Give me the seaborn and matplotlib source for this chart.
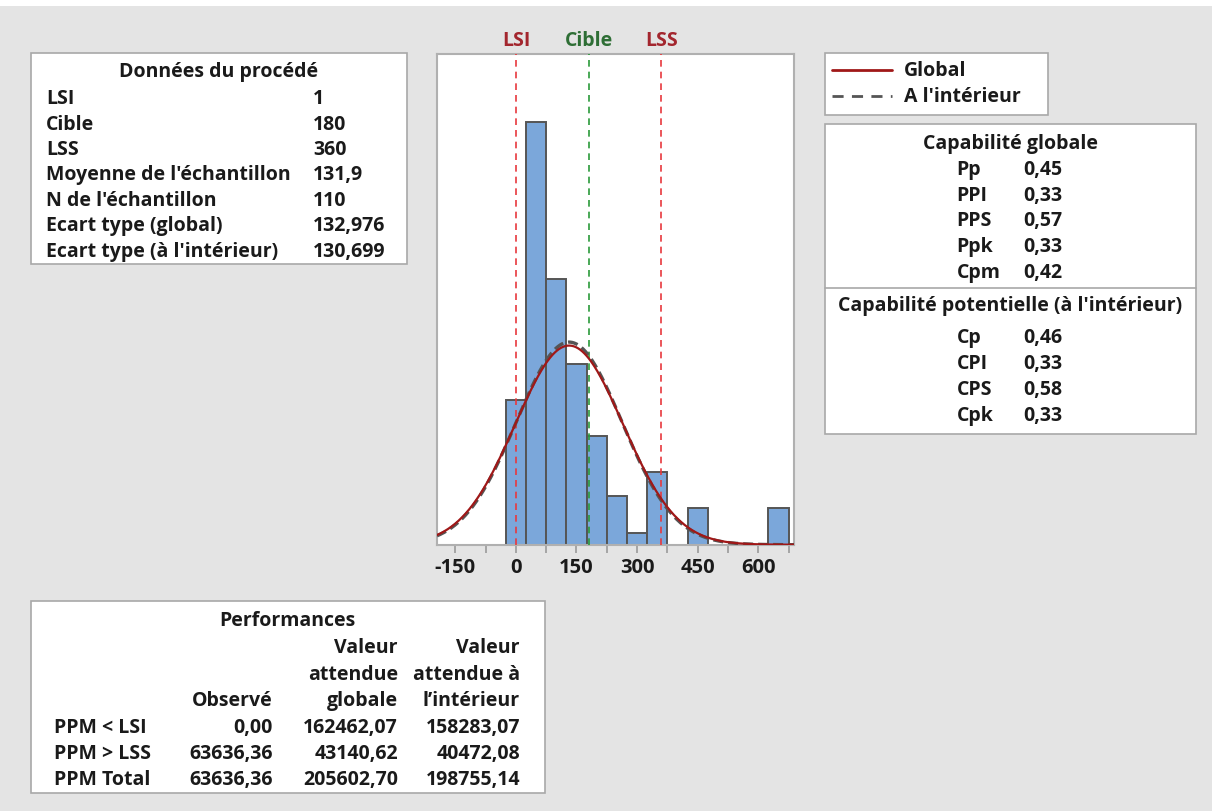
import numpy as np
import pandas as pd
import matplotlib
matplotlib.use("Agg")
import matplotlib.pyplot as plt
import seaborn as sns
from matplotlib.patches import Rectangle
from matplotlib.lines import Line2D

# ---------------- data ----------------
bin_centers = [0, 50, 100, 150, 200, 250, 300, 350, 400, 450, 500, 550, 600, 650]
bin_counts = [12, 35, 22, 15, 9, 4, 1, 6, 0, 3, 0, 0, 0, 3]
bin_width = 50
LSI, Cible, LSS = 1, 180, 360
mean = 131.9
n = 110
sd_global = 132.976
sd_within = 130.699
x_ticks = [-150, 0, 150, 300, 450, 600]
x_minor_ticks = [-75, 75, 225, 375, 525, 675]

process_labels = ["LSI", "Cible", "LSS", "Moyenne de l'échantillon",
                  "N de l'échantillon", "Ecart type (global)",
                  "Ecart type (à l'intérieur)"]
process_values = ["1", "180", "360", "131,9", "110", "132,976", "130,699"]
global_labels = ["Pp", "PPI", "PPS", "Ppk", "Cpm"]
global_values = ["0,45", "0,33", "0,57", "0,33", "0,42"]
within_labels = ["Cp", "CPI", "CPS", "Cpk"]
within_values = ["0,46", "0,33", "0,58", "0,33"]
perf_rows = ["PPM < LSI", "PPM > LSS", "PPM Total"]
perf_observed = ["0,00", "63636,36", "63636,36"]
perf_global = ["162462,07", "43140,62", "205602,70"]
perf_within = ["158283,07", "40472,08", "198755,14"]

# ---------------- style ----------------
sns.set_theme(style="white")
plt.rcParams['font.family'] = ['Open Sans', 'DejaVu Sans']
W, H = 1212, 812
BG = "#e4e4e4"
TXT = "#1a1a1a"
FS = 14
WEIGHT = "bold"
DY = 1.5  # small downward nudge for centred text

fig = plt.figure(figsize=(W / 100, H / 100), dpi=100, facecolor=BG)


def fx(x):
    return x / W


def fy(y):
    return 1 - y / H


def box(x0, y0, x1, y1):
    fig.patches.append(Rectangle((fx(x0), fy(y1)), fx(x1) - fx(x0), fy(y0) - fy(y1),
                                 transform=fig.transFigure, facecolor="white",
                                 edgecolor="#a8a8a8", linewidth=1.2, zorder=0))


def txt(x, y, s, ha="left", **kw):
    fig.text(fx(x), fy(y + DY), s, ha=ha, va="center", fontsize=FS, color=TXT,
             fontweight=WEIGHT, **kw)


# white strip at top
fig.patches.append(Rectangle((0, fy(7)), 1, 1 - fy(7), transform=fig.transFigure,
                             facecolor="white", edgecolor="none", zorder=0))

# ---------------- histogram ----------------
ax = fig.add_axes([fx(437), fy(545.7), fx(794.3) - fx(437), fy(54.5) - fy(545.7)])
ax.set_facecolor("white")
hist_df = pd.DataFrame({"valeur": bin_centers, "effectif": bin_counts})
sns.histplot(data=hist_df, x="valeur", weights="effectif", bins=len(bin_centers),
             binrange=(bin_centers[0] - bin_width / 2, bin_centers[-1] + bin_width / 2),
             ax=ax, color="#7ba7da", edgecolor="#555555", linewidth=1.4, alpha=1.0, zorder=2)

xlim = (-195, 689)
xs = np.linspace(xlim[0], xlim[1], 500)
y_within = n * bin_width * np.exp(-0.5 * ((xs - mean) / sd_within) ** 2) / (sd_within * np.sqrt(2 * np.pi))
y_global = n * bin_width * np.exp(-0.5 * ((xs - mean) / sd_global) ** 2) / (sd_global * np.sqrt(2 * np.pi))
sns.lineplot(x=xs, y=y_within, ax=ax, color="#555555", linewidth=2.4,
             linestyle=(0, (3, 1.5)), zorder=4)
sns.lineplot(x=xs, y=y_global, ax=ax, color="#a01818", linewidth=1.6, zorder=5)

for v, col in [(LSI, "#e8383d"), (Cible, "#2a9a3a"), (LSS, "#e8383d")]:
    ax.axvline(v, color=col, linestyle=(0, (4, 3)), linewidth=1.2, zorder=3)

ax.set_yticks([])
ax.set_xticks(x_ticks)
ax.set_xticklabels([str(t) for t in x_ticks])
ax.set_xticks(x_minor_ticks, minor=True)
ax.set_xlim(*xlim)
ax.set_ylim(0, 40.7)
ax.tick_params(axis="x", which="both", direction="out", length=6, width=1.2,
               color="#9a9a9a", bottom=True, pad=3)
ax.tick_params(axis="x", which="major", labelsize=14.5, labelcolor=TXT)
for lab in ax.get_xticklabels():
    lab.set_fontweight(WEIGHT)
ax.set_xlabel("")
ax.set_ylabel("")
for sp in ax.spines.values():
    sp.set_color("#b0b0b0")
    sp.set_linewidth(1.5)

for v, s, col in [(LSI, "LSI", "#a3262e"), (Cible, "Cible", "#2e6e35"), (LSS, "LSS", "#a3262e")]:
    ax.text(v, 1 + 3 / 491, s, transform=ax.get_xaxis_transform(), ha="center", va="bottom",
            fontsize=FS, color=col, fontweight=WEIGHT)

# ---------------- Données du procédé ----------------
box(31, 54, 407, 265)
txt(219, 70, "Données du procédé", ha="center")
for i, (l, v) in enumerate(zip(process_labels, process_values)):
    y = 97.7 + i * 25.4
    txt(46, y, l)
    txt(313, y, v)

# ---------------- legend ----------------
box(825, 54, 1048, 116)
fig.lines.append(Line2D([fx(832), fx(892)], [fy(71), fy(71)], transform=fig.transFigure,
                        color="#a01818", linewidth=2))
fig.lines.append(Line2D([fx(832), fx(892)], [fy(97), fy(97)], transform=fig.transFigure,
                        color="#555555", linewidth=2, linestyle=(0, (4, 3))))
txt(904, 70, "Global")
txt(904, 96, "A l'intérieur")

# ---------------- capability ----------------
box(825, 125, 1196, 435)
fig.lines.append(Line2D([fx(825), fx(1196)], [fy(288.5), fy(288.5)], transform=fig.transFigure,
                        color="#a8a8a8", linewidth=1.2))
txt(1010.5, 142, "Capabilité globale", ha="center")
for i, (l, v) in enumerate(zip(global_labels, global_values)):
    y = 168.3 + i * 25.8
    txt(956.5, y, l)
    txt(1023, y, v)
txt(1010.5, 305, "Capabilité potentielle (à l'intérieur)", ha="center")
for i, (l, v) in enumerate(zip(within_labels, within_values)):
    y = 336.7 + i * 25.8
    txt(956.5, y, l)
    txt(1023, y, v)

# ---------------- performances ----------------
box(31, 602, 545, 794)
txt(287, 620, "Performances", ha="center")
txt(398, 646.7, "Valeur", ha="right")
txt(520, 646.7, "Valeur", ha="right")
txt(398, 673.3, "attendue", ha="right")
txt(520, 673.3, "attendue à", ha="right")
txt(273, 700, "Observé", ha="right")
txt(398, 700, "globale", ha="right")
txt(520, 700, "l\u2019intérieur", ha="right")
for i, r in enumerate(perf_rows):
    y = 726.7 + i * 25.8
    txt(53.5, y, r)
    txt(273, y, perf_observed[i], ha="right")
    txt(398, y, perf_global[i], ha="right")
    txt(520, y, perf_within[i], ha="right")

fig.savefig("out.png", dpi=100, facecolor=BG)
